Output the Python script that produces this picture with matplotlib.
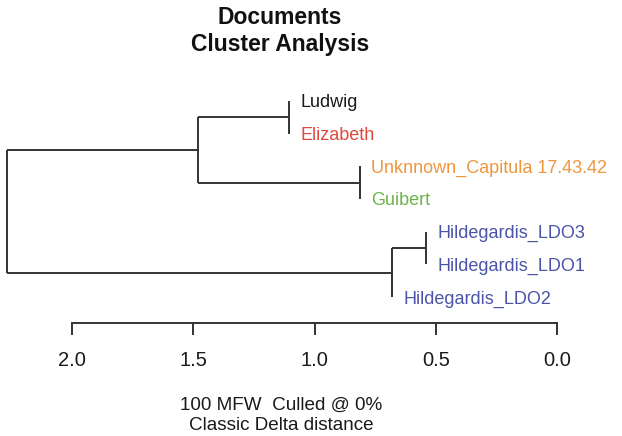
import matplotlib
matplotlib.use("Agg")
import matplotlib.pyplot as plt
import matplotlib.transforms as mtransforms

# ---- data ----
leaf_labels = ["Ludwig", "Elizabeth", "Unknnown_Capitula 17.43.42", "Guibert",
               "Hildegardis_LDO3", "Hildegardis_LDO1", "Hildegardis_LDO2"]
leaf_colors = ["#1a1a1a", "#E0483E", "#EE963E", "#6DB34A",
               "#4A54A8", "#4A54A8", "#4A54A8"]
# merges: (child_a, child_b, height); negative -> leaf index (-(i+1)), positive -> merge number (1-based)
merge_a = [-1, -3, -5, 3, 1, 5]
merge_b = [-2, -4, -6, -7, 2, 4]
merge_height = [1.105, 0.812, 0.540, 0.680, 1.482, 2.268]
axis_ticks = [2.0, 1.5, 1.0, 0.5, 0.0]
axis_ticklabels = ["2.0", "1.5", "1.0", "0.5", "0.0"]
title_lines = ["Documents", "Cluster Analysis"]
subtitle_lines = ["100 MFW  Culled @ 0%", "Classic Delta distance"]

plt.rcParams['font.family'] = ['Liberation Sans', 'DejaVu Sans']

W, H = 622, 436
fig = plt.figure(figsize=(W / 100, H / 100), dpi=100)
ax = fig.add_axes([0, 0, 1, 1])
ax.set_facecolor("white")

px_per_unit = 242.5
x0_px = 72.0          # pixel of value 2.0
tip0_px, tip_sp = 101.0, 32.67
ax.set_xlim(2.0 + x0_px / px_per_unit, 2.0 - (W - x0_px) / px_per_unit)
ax.set_ylim((H - tip0_px) / tip_sp, -tip0_px / tip_sp)

lc = "#333333"
lw = 1.4

# compute node positions
node_y = {}
node_x = {}
leaf_x = {}
for k, (a, b, h) in enumerate(zip(merge_a, merge_b, merge_height), start=1):
    ys = []
    for c in (a, b):
        if c < 0:
            i = -c - 1
            ys.append(i)
            leaf_x[i] = h
        else:
            ys.append(node_y[c])
            ax.plot([node_x[c], h], [node_y[c], node_y[c]], color=lc, lw=lw,
                    solid_capstyle='butt')
    ax.plot([h, h], [min(ys), max(ys)], color=lc, lw=lw, solid_capstyle='butt')
    node_y[k] = sum(ys) / 2
    node_x[k] = h

# leaf labels
for i, (lab, col) in enumerate(zip(leaf_labels, leaf_colors)):
    tr = ax.transData + mtransforms.ScaledTranslation(11 / 100, -6.4 / 100, fig.dpi_scale_trans)
    ax.text(leaf_x[i], i, lab, color=col, fontsize=12.95, ha='left', va='baseline',
            transform=tr)

# scale axis
axis_y = (323 - tip0_px) / tip_sp
for s in ["top", "left", "right"]:
    ax.spines[s].set_visible(False)
ax.spines["bottom"].set_position(("data", axis_y))
ax.spines["bottom"].set_bounds(min(axis_ticks), max(axis_ticks))
ax.spines["bottom"].set_color(lc)
ax.spines["bottom"].set_linewidth(lw)
ax.set_xticks(axis_ticks)
ax.set_xticklabels(axis_ticklabels)
ax.tick_params(axis='x', direction='out', length=8.5, width=lw, color=lc,
               labelsize=14.5, pad=11.5, labelcolor="#1a1a1a")
ax.set_yticks([])

# titles
fig.text(280 / W, 1 - 17 / H, title_lines[0], ha='center', va='center',
         fontsize=16.5, fontweight='bold', color="#111111")
fig.text(280 / W, 1 - 44 / H, title_lines[1], ha='center', va='center',
         fontsize=16.5, fontweight='bold', color="#111111")
fig.text(281 / W, 1 - 405 / H, subtitle_lines[0], ha='center', va='center',
         fontsize=13.6, color="#1a1a1a")
fig.text(281 / W, 1 - 425 / H, subtitle_lines[1], ha='center', va='center',
         fontsize=13.6, color="#1a1a1a")

fig.savefig("out.png", dpi=100, facecolor="white")
